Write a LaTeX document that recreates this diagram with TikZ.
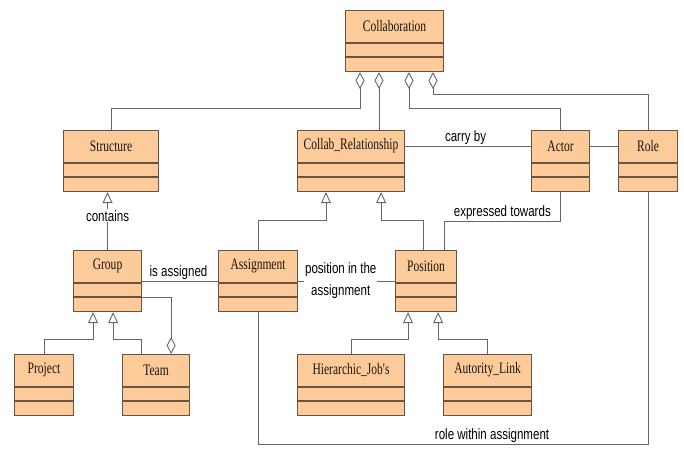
\documentclass[tikz,border=0pt]{standalone}
\usepackage{fontspec}
\usetikzlibrary{arrows.meta}
\newfontfamily\classfont[FakeStretch=0.72]{Liberation Serif}
\newfontfamily\labelfont[FakeStretch=0.77]{Liberation Sans}
\definecolor{classfill}{HTML}{FCCB99}
\definecolor{classline}{HTML}{6B5344}
\definecolor{linkline}{HTML}{666666}

\tikzset{
  classbox/.style={draw=classline, fill=classfill, line width=1.1pt, minimum height=61pt, inner sep=0pt, anchor=north west},
  classname/.style={font=\classfont\fontsize{16}{18}\selectfont, text=black!85!brown, inner sep=0pt},
  link/.style={draw=linkline, line width=0.9pt},
  aggr/.style={link, {Diamond[open, length=17pt, width=9pt]}-},
  aggrend/.style={link, -{Diamond[open, length=17pt, width=9pt]}},
  gen/.style={link, -{Triangle[open, length=11pt, width=10pt]}},
  linklabel/.style={font=\labelfont\fontsize{15}{22}\selectfont, text=black, inner sep=1pt},
}

% name, x, y, width, title
\newcommand{\umlclass}[5]{%
  \node[classbox, minimum width=#4] (#1) at (#2,#3) {};
  \node[classname] (#1-t) at ([yshift=-16pt]#1.north) {#5};
  \draw[classline, line width=1.1pt] ([yshift=-33pt]#1.north west) -- ([yshift=-33pt]#1.north east);
  \draw[classline, line width=1.1pt] ([yshift=-47pt]#1.north west) -- ([yshift=-47pt]#1.north east);
}

\begin{document}
\begin{tikzpicture}[x=1pt, y=-1pt]
  \useasboundingbox (0,0) rectangle (684,450);

  \umlclass{coll}{345}{10}{98pt}{Collaboration}
  \umlclass{struct}{63}{130}{95pt}{Structure}
  \umlclass{crel}{297}{130}{107pt}{Collab\_Relationship}
  \umlclass{actor}{531}{130}{58pt}{Actor}
  \umlclass{role}{618}{130}{59pt}{Role}
  \umlclass{grp}{73}{250}{68pt}{Group}
  \umlclass{asg}{218}{250}{79pt}{Assignment}
  \umlclass{pos}{395}{250}{61pt}{Position}
  \umlclass{proj}{14}{354}{59pt}{Project}
  \umlclass{team}{122}{354}{67pt}{Team}
  \umlclass{hier}{297}{354}{107pt}{Hierarchic\_Job's}
  \umlclass{auth}{443}{354}{88pt}{Autority\_Link}

  % aggregations of Collaboration
  \coordinate (c2) at ([xshift=34pt]coll.south west);
  \draw[aggr] ([xshift=15pt]coll.south west) -- ++(0,36) -| (struct.north);
  \draw[aggr] (c2) -- (c2 |- crel.north);
  \draw[aggr] ([xshift=64pt]coll.south west) -- ++(0,36) -| (actor.north);
  \draw[aggr] ([xshift=88pt]coll.south west) -- ++(0,22) -| (role.north);

  % associations
  \draw[link] (crel-t -| crel.east) -- node[linklabel, above, pos=0.48] {carry by} (actor-t -| actor.west);
  \draw[link] (actor-t -| actor.east) -- (role-t -| role.west);
  \draw[link] (actor.south) -- ++(0,29) -| node[linklabel, above, pos=0.25] {expressed towards} ([xshift=-13pt]pos.north east);
  \draw[link] (grp.east) -- node[linklabel, above, pos=0.48] {is assigned} (asg.west);
  \draw[link] (asg.east) -- node[linklabel, fill=white, align=center, pos=0.44] {position in the\\assignment} (pos.west);
  \draw[link] (role.south) -- ++(0,252) -| node[linklabel, above, pos=0.2] {role within assignment} (asg.south);
  \draw[aggrend] ([yshift=-16pt]grp.east) -| ([xshift=-19pt]team.north east);

  % generalizations
  \draw[gen] (asg.north) -- ++(0,-30) -| ([xshift=29pt]crel.south west);
  \draw[gen] ([xshift=28pt]pos.north west) -- ++(0,-30) -| ([xshift=-24pt]crel.south east);
  \draw[gen] (grp.north) -- node[linklabel, fill=white, pos=0.59] {contains} (grp.north |- struct.south);
  \draw[gen] (proj.north) -- ++(0,-15) -| ([xshift=20pt]grp.south west);
  \draw[gen] ([xshift=19pt]team.north west) -- ++(0,-15) -| ([xshift=-29pt]grp.south east);
  \draw[gen] (hier.north) -- ++(0,-15) -| ([xshift=13pt]pos.south west);
  \draw[gen] (auth.north) -- ++(0,-15) -| ([xshift=-19pt]pos.south east);
\end{tikzpicture}
\end{document}
